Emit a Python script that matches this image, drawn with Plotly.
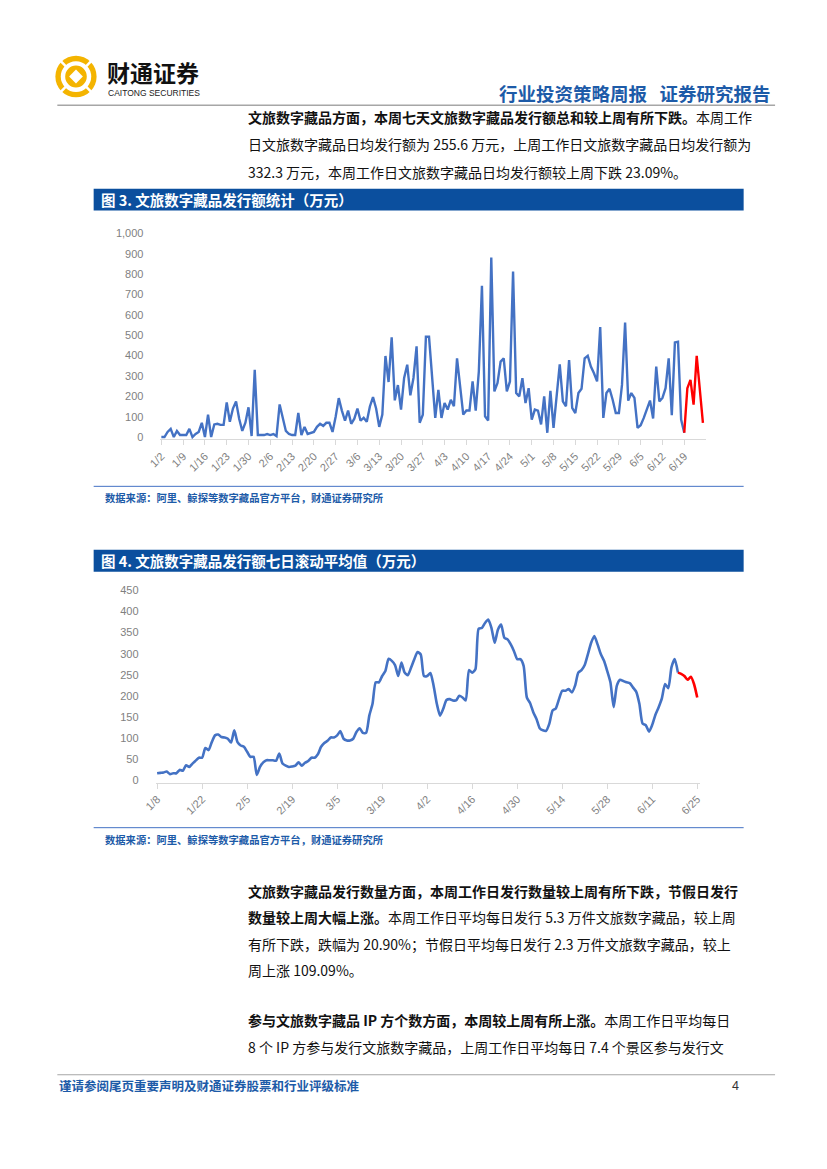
import plotly.graph_objects as go
import pandas as pd

# ---------------- data ----------------
# Figure 3: daily issue amount (10k CNY), 2023-01-02 .. 2023-06-25 ; last 7 days highlighted (current week)
amount_start = "2023-01-02"
amount_values = [
    0, 0, 25, 40, 0, 30, 10, 10, 10, 40, 0, 15, 25, 70, 0, 110, 0, 62, 65, 60,
    60, 170, 75, 140, 175, 90, 30, 70, 146, 5, 330, 10, 10, 10, 15, 10, 15, 5, 160, 100,
    30, 15, 10, 10, 118, 10, 50, 15, 20, 25, 50, 65, 55, 70, 70, 25, 100, 191, 130, 80,
    130, 65, 90, 140, 80, 95, 75, 150, 196, 140, 50, 110, 398, 270, 490, 180, 255, 135, 290, 355,
    205, 290, 445, 70, 110, 492, 492, 290, 94, 232, 94, 167, 135, 183, 151, 386, 256, 110, 130, 130,
    273, 130, 321, 743, 102, 81, 881, 224, 265, 370, 386, 224, 273, 812, 216, 200, 289, 167, 240, 86,
    135, 130, 62, 200, 21, 227, 45, 192, 357, 175, 151, 378, 143, 118, 216, 237, 386, 399, 346, 313,
    273, 540, 94, 216, 237, 183, 118, 118, 256, 562, 179, 216, 192, 45, 58, 94, 135, 179, 91, 346,
    175, 192, 240, 386, 107, 464, 468, 86, 21, 240, 281, 159, 399, 224, 70,
]
amount_week_start = "2023-06-19"

# Figure 4: 7-day rolling average (10k CNY), 2023-01-08 .. 2023-06-25
rolling_start = "2023-01-08"
rolling_values = [
    16, 17, 18, 20, 14, 16, 16, 24, 22, 35, 31, 39, 46, 53, 53, 76, 71, 90, 106, 108,
    102, 101, 98, 89, 118, 90, 82, 79, 67, 55, 55, 12, 31, 42, 47, 47, 47, 46, 63, 39,
    34, 31, 32, 34, 42, 34, 41, 45, 53, 53, 61, 79, 88, 93, 101, 101, 106, 116, 98, 94,
    94, 98, 114, 123, 112, 112, 153, 181, 232, 232, 247, 259, 288, 283, 273, 247, 279, 255, 249, 267,
    287, 304, 298, 247, 247, 254, 224, 181, 153, 169, 190, 192, 189, 189, 200, 196, 189, 261, 255, 263,
    359, 361, 373, 381, 361, 326, 357, 369, 338, 334, 322, 306, 287, 287, 271, 196, 183, 161, 145, 123,
    118, 117, 134, 165, 170, 192, 212, 212, 216, 208, 224, 255, 261, 273, 299, 326, 342, 322, 299, 283,
    259, 232, 173, 224, 238, 235, 232, 230, 220, 210, 181, 134, 130, 115, 131, 155, 173, 194, 228, 218,
    268, 287, 255, 252, 247, 238, 245, 228, 196,
]
rolling_week_start = "2023-06-19"

amount_yticks = list(range(0, 1001, 100))
rolling_yticks = list(range(0, 451, 50))

# ---------------- page geometry ----------------
W, H = 827, 1169
OX, OY = 8, 8  # page body margin compensation


def px(x):
    return (x - OX) / W


def py(y):
    return 1 - (y - OY) / H


BLUE_LINE = "#4472C4"
RED_LINE = "#FF0000"
BAR = "#0B4F9E"
TXT_BLUE = "#1D5BA8"
GRAY = "#7F7F7F"
CJK = "Noto Sans CJK SC"
NUM = "Liberation Sans"

dates3 = pd.date_range(amount_start, periods=len(amount_values))
dates4 = pd.date_range(rolling_start, periods=len(rolling_values))
s3 = list(dates3).index(pd.Timestamp(amount_week_start))
s4 = list(dates4).index(pd.Timestamp(rolling_week_start))

fig = go.Figure()
fig.add_trace(go.Scatter(x=dates3[: s3 + 1], y=amount_values[: s3 + 1], mode="lines",
                         line=dict(color=BLUE_LINE, width=2.4), xaxis="x", yaxis="y"))
fig.add_trace(go.Scatter(x=dates3[s3:], y=amount_values[s3:], mode="lines",
                         line=dict(color=RED_LINE, width=2.4), xaxis="x", yaxis="y"))
fig.add_trace(go.Scatter(x=dates4[: s4 + 1], y=rolling_values[: s4 + 1], mode="lines",
                         line=dict(color=BLUE_LINE, width=2.6, shape="spline", smoothing=0.6),
                         xaxis="x2", yaxis="y2"))
fig.add_trace(go.Scatter(x=dates4[s4:], y=rolling_values[s4:], mode="lines",
                         line=dict(color=RED_LINE, width=2.6, shape="spline", smoothing=0.6),
                         xaxis="x2", yaxis="y2"))


def drange(start, lo, hi):
    t0 = pd.Timestamp(start)
    return [(t0 + pd.Timedelta(days=lo)).isoformat(), (t0 + pd.Timedelta(days=hi)).isoformat()]


tick3 = dates3[::7]
tick4 = dates4[::14]
axis_font = dict(family=NUM, size=11, color=GRAY)

fig.update_layout(
    width=W, height=H, margin=dict(l=0, r=0, t=0, b=0),
    paper_bgcolor="white", plot_bgcolor="white", showlegend=False,
    xaxis=dict(domain=[px(150), px(706)], range=drange(amount_start, -0.3, 175.1),
               tickvals=list(tick3), ticktext=[f"{d.month}/{d.day}" for d in tick3],
               tickangle=-45, tickfont=axis_font, showline=True, linecolor="#D9D9D9",
               ticks="outside", ticklen=5, tickcolor="#D9D9D9", showgrid=False,
               zeroline=False, anchor="y"),
    yaxis=dict(domain=[py(436.8), py(229)], range=[-12, 1000], tickvals=amount_yticks,
               tickformat=",", tickfont=axis_font, showgrid=False, zeroline=False,
               showline=False, ticks="", anchor="x", ticklabelstandoff=16),
    xaxis2=dict(domain=[px(145), px(700)], range=drange(rolling_start, -0.5, 169.0),
                tickvals=list(tick4), ticktext=[f"{d.month}/{d.day}" for d in tick4],
                tickangle=-45, tickfont=axis_font, showline=True, linecolor="#D9D9D9",
                ticks="outside", ticklen=5, tickcolor="#D9D9D9", showgrid=False,
                zeroline=False, anchor="y2"),
    yaxis2=dict(domain=[py(782.5), py(589)], range=[-6, 450], tickvals=rolling_yticks,
                tickfont=axis_font, showgrid=False, zeroline=False, showline=False,
                ticks="", anchor="x2", ticklabelstandoff=16),
)

shapes = []
annos = []


def text(x, y, s, size, color="#000000", anchor="left", family=CJK):
    annos.append(dict(x=px(x), y=py(y), xref="paper", yref="paper", text=s, showarrow=False,
                      xanchor=anchor, yanchor="middle", font=dict(family=family, size=size, color=color)))


def hline(x0, x1, y, color, width):
    shapes.append(dict(type="line", xref="paper", yref="paper", x0=px(x0), x1=px(x1),
                       y0=py(y), y1=py(y), line=dict(color=color, width=width)))


def rect(x0, y0, x1, y1, color):
    shapes.append(dict(type="rect", xref="paper", yref="paper", x0=px(x0), x1=px(x1),
                       y0=py(y1), y1=py(y0), fillcolor=color, line=dict(width=0)))


def circle(cx, cy, r, color):
    shapes.append(dict(type="circle", xref="paper", yref="paper", x0=px(cx - r), x1=px(cx + r),
                       y0=py(cy + r), y1=py(cy - r), fillcolor=color, line=dict(width=0)))


# ---- logo ----
GOLD = "#F4B400"
circle(64, 71, 21, GOLD)
circle(64, 71, 15.5, "white")
circle(64, 71, 11, GOLD)
diamond = "M {} {} L {} {} L {} {} L {} {} Z".format(px(64), py(64), px(71), py(71), px(64), py(78), px(57), py(71))
shapes.append(dict(type="path", xref="paper", yref="paper", path=diamond, fillcolor="white", line=dict(width=0)))
for (ax, ay, bx, by) in [(47, 54, 54, 61), (81, 54, 74, 61), (47, 88, 54, 81), (81, 88, 74, 81)]:
    shapes.append(dict(type="line", xref="paper", yref="paper", x0=px(ax), y0=py(ay), x1=px(bx), y1=py(by),
                       line=dict(color="white", width=2.5)))
text(94, 66, "<b>财通证券</b>", 23, "#111111")
text(95, 87.5, "CAITONG SECURITIES", 8.5, "#222222", family=NUM)

# ---- header ----
text(774, 88, "<b>行业投资策略周报   证券研究报告</b>", 18.5, TXT_BLUE, anchor="right")
hline(45, 776, 100, "#A6A6A6", 1.5)

# ---- paragraph 1 ----
p1 = [
    "<b>文旅数字藏品方面，本周七天文旅数字藏品发行额总和较上周有所下跌。</b>本周工作",
    "日文旅数字藏品日均发行额为 255.6 万元，上周工作日文旅数字藏品日均发行额为",
    "332.3 万元，本周工作日文旅数字藏品日均发行额较上周下跌 23.09%。",
]
for i, s in enumerate(p1):
    text(237, 112 + i * 27.5, s, 14, "#111111")

# ---- figure 3 title / source ----
rect(82, 184, 744, 206, BAR)
text(87, 195, "<b>图 3. 文旅数字藏品发行额统计（万元）</b>", 14.5, "white")
hline(82, 744, 484, "#4472C4", 1)
text(92, 495, "<b>数据来源：阿里、鲸探等数字藏品官方平台，财通证券研究所</b>", 10.3, TXT_BLUE)

# ---- figure 4 title / source ----
rect(82, 548, 744, 570, BAR)
text(87, 559, "<b>图 4. 文旅数字藏品发行额七日滚动平均值（万元）</b>", 14.5, "white")
hline(82, 744, 828, "#4472C4", 1)
text(92, 840, "<b>数据来源：阿里、鲸探等数字藏品官方平台，财通证券研究所</b>", 10.3, TXT_BLUE)

# ---- paragraphs 2 and 3 ----
p2 = [
    "<b>文旅数字藏品发行数量方面，本周工作日发行数量较上周有所下跌，节假日发行</b>",
    "<b>数量较上周大幅上涨。</b>本周工作日平均每日发行 5.3 万件文旅数字藏品，较上周",
    "有所下跌，跌幅为 20.90%；节假日平均每日发行 2.3 万件文旅数字藏品，较上",
    "周上涨 109.09%。",
]
for i, s in enumerate(p2):
    text(237, 892 + i * 26.5, s, 14, "#111111")
p3 = [
    "<b>参与文旅数字藏品 IP 方个数方面，本周较上周有所上涨。</b>本周工作日平均每日",
    "8 个 IP 方参与发行文旅数字藏品，上周工作日平均每日 7.4 个景区参与发行文",
]
for i, s in enumerate(p3):
    text(237, 1022 + i * 27, s, 14, "#111111")

# ---- footer ----
hline(45, 776, 1077, "#A6A6A6", 1.2)
text(45, 1088, "<b>谨请参阅尾页重要声明及财通证券股票和行业评级标准</b>", 12.5, TXT_BLUE)
text(741, 1088, "4", 12.5, "#333333", anchor="right", family=NUM)

fig.update_layout(shapes=shapes, annotations=annos)
fig.write_html("out.html")
